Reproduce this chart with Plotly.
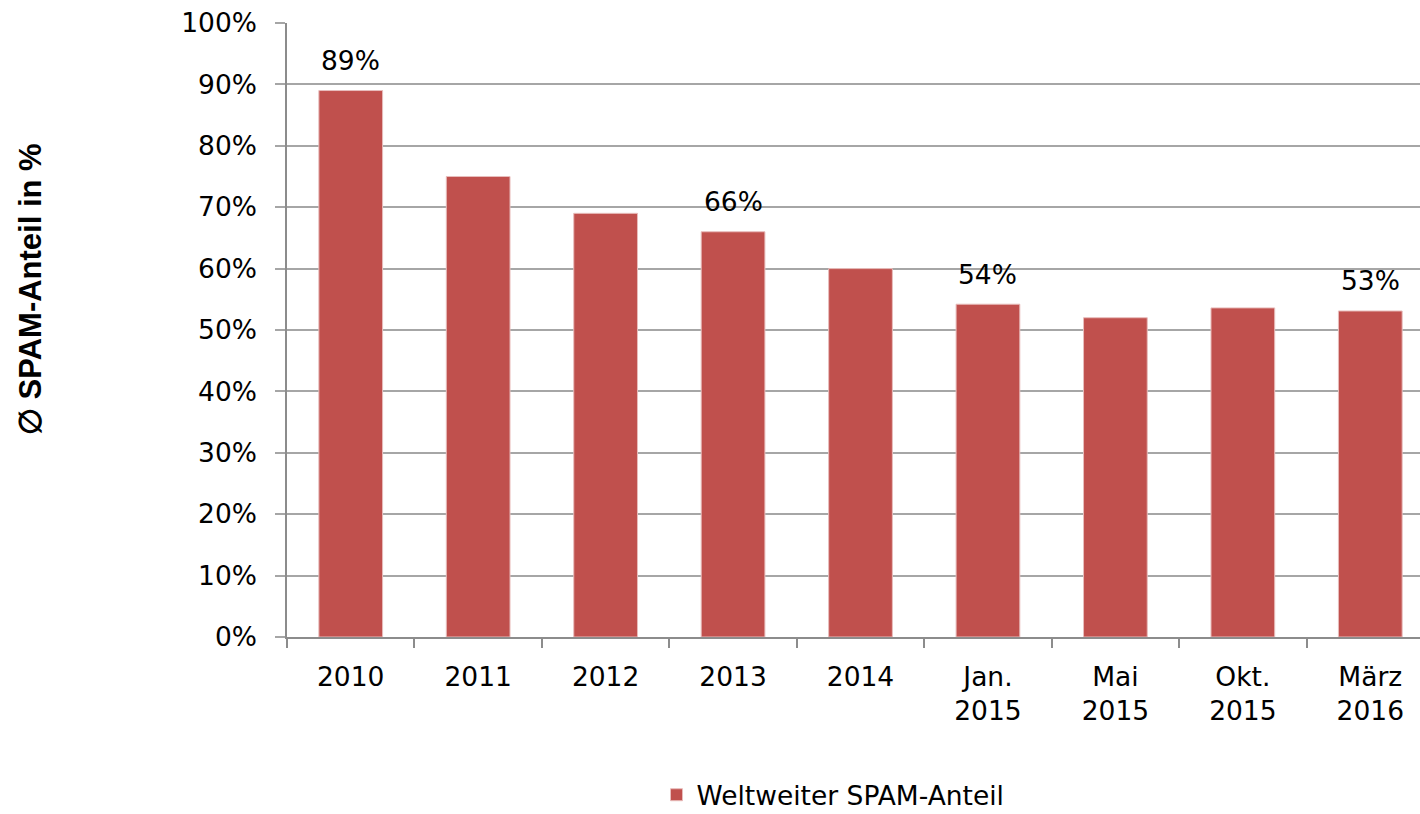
import plotly.graph_objects as go

categories = ["2010", "2011", "2012", "2013", "2014", "Jan.<br>2015", "Mai<br>2015", "Okt.<br>2015", "März<br>2016"]
spam_share = [89, 75, 69, 66, 60, 54.2, 52, 53.6, 53.1]
shown_labels = ["89%", "", "", "66%", "", "54%", "", "", "53%"]
y_ticks = [0, 10, 20, 30, 40, 50, 60, 70, 80, 90, 100]
y_tick_text = [f"{v}%" for v in y_ticks]

BAR = "#C0504D"
FONT = "DejaVu Sans"
FS = 26.5

W, H = 1420, 814
L, T = 287, 23
PW, PH = W - L, 614

fig = go.Figure()
fig.add_trace(go.Bar(
    x=list(range(len(categories))),
    y=spam_share,
    name="Weltweiter SPAM-Anteil",
    marker=dict(color=BAR, line=dict(color="#E8BDBC", width=1)),
    width=0.5,
))

for i, (v, t) in enumerate(zip(spam_share, shown_labels)):
    if t:
        fig.add_annotation(x=i, y=v, text=t, showarrow=False, yanchor="middle",
                           yshift=30, font=dict(family=FONT, size=FS, color="#000"))

# y-axis title as rotated annotation for exact placement
fig.add_annotation(xref="paper", yref="paper", x=(30 - 287) / PW, y=(637 - 289) / PH,
                   xanchor="center", yanchor="middle", textangle=-90, showarrow=False,
                   text="<b>∅ SPAM-Anteil in %</b>",
                   font=dict(family="Liberation Sans", size=31, color="#000"))

fig.update_layout(
    width=W, height=H,
    margin=dict(l=L, r=0, t=T, b=H - T - PH, autoexpand=False),
    paper_bgcolor="white", plot_bgcolor="white",
    font=dict(family=FONT, size=FS, color="#000"),
    showlegend=True,
    legend=dict(orientation="h", xref="container", yref="container",
                x=833 / W, xanchor="center", y=(H - 795) / H, yanchor="middle",
                font=dict(family=FONT, size=FS, color="#000"), itemwidth=30),
    bargap=0.5,
)

fig.update_xaxes(
    automargin=False,
    tickmode="array", tickvals=list(range(len(categories))), ticktext=categories,
    range=[-0.5, 8.39],
    showline=True, linecolor="#8C8C8C", linewidth=1.5,
    ticks="", showgrid=False, zeroline=False,
    ticklabelstandoff=15,
    tickfont=dict(family=FONT, size=FS, color="#000"),
    minor=dict(tickmode="array", tickvals=[i + 0.5 for i in range(-1, len(categories))],
               ticks="outside", ticklen=9, tickcolor="#8C8C8C", tickwidth=1.5, showgrid=False),
)

fig.update_yaxes(
    automargin=False,
    range=[0, 100], tickmode="array", tickvals=y_ticks, ticktext=y_tick_text,
    showline=True, linecolor="#8C8C8C", linewidth=1.5,
    ticks="outside", ticklen=10, tickcolor="#A6A6A6", tickwidth=1.5,
    showgrid=True, gridcolor="#A6A6A6", gridwidth=1.5, zeroline=False,
    ticklabelstandoff=13,
    tickfont=dict(family=FONT, size=FS, color="#000"),
)

fig.write_html("out.html", config={"displayModeBar": False},
               post_script="document.body.style.margin='0';document.body.style.overflow='hidden';")
